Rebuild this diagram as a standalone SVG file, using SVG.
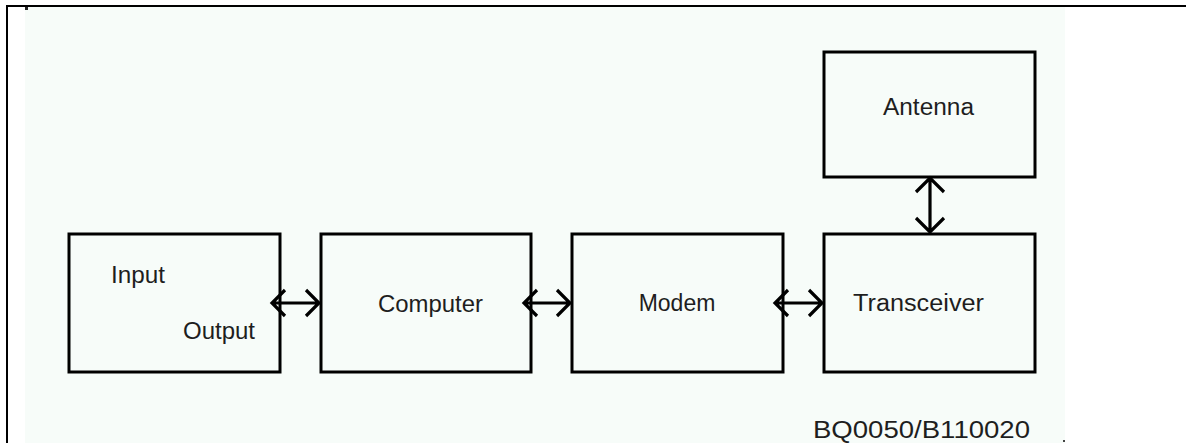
<svg xmlns="http://www.w3.org/2000/svg" width="1186" height="443" viewBox="0 0 1186 443">
<style>
.box{fill:none;stroke:#000;stroke-width:3}
.ln{fill:none;stroke:#000;stroke-width:3.2;stroke-linecap:butt;stroke-linejoin:miter}
.t{font-family:"Liberation Sans",Arial,sans-serif;font-size:23px;fill:#1e1e1e}
</style>
<rect x="0" y="0" width="1186" height="443" fill="#fff"/>
<rect x="25" y="7" width="1040" height="436" fill="#f7fcf9"/>
<rect x="6" y="5" width="1180" height="2" fill="#000"/>
<rect x="6" y="5" width="2" height="438" fill="#000"/>
<rect x="25" y="7" width="3" height="3" fill="#222"/>
<rect x="1063" y="440" width="2" height="2" fill="#444"/>
<g id="io">
<rect class="box" x="69" y="234" width="211" height="138"/>
<text class="t" x="111" y="283" textLength="54" lengthAdjust="spacingAndGlyphs">Input</text>
<text class="t" x="183" y="339" textLength="72" lengthAdjust="spacingAndGlyphs">Output</text>
</g>
<g id="computer">
<rect class="box" x="321" y="234" width="210" height="138"/>
<text class="t" x="378" y="312" textLength="105" lengthAdjust="spacingAndGlyphs">Computer</text>
</g>
<g id="modem">
<rect class="box" x="572" y="234" width="211" height="138"/>
<text class="t" x="677" y="311" text-anchor="middle">Modem</text>
</g>
<g id="transceiver">
<rect class="box" x="824" y="234" width="211" height="138"/>
<text class="t" x="853" y="311" textLength="131" lengthAdjust="spacingAndGlyphs">Transceiver</text>
</g>
<g id="antenna">
<rect class="box" x="824" y="52" width="211" height="125"/>
<text class="t" x="883" y="115" textLength="91" lengthAdjust="spacingAndGlyphs">Antenna</text>
</g>
<text class="t" x="813" y="438" textLength="217" lengthAdjust="spacingAndGlyphs">BQ0050/B110020</text>
<g id="connectors">
<path class="ln" d="M272 303H319M285 290L272 303L285 316M306 290L319 303L306 316"/>
<path class="ln" d="M524 303H570M537 290L524 303L537 316M557 290L570 303L557 316"/>
<path class="ln" d="M775 303H822M788 290L775 303L788 316M809 290L822 303L809 316"/>
<path class="ln" d="M930 178V232M916 192L930 178L944 192M916 218L930 232L944 218"/>
</g>
</svg>
